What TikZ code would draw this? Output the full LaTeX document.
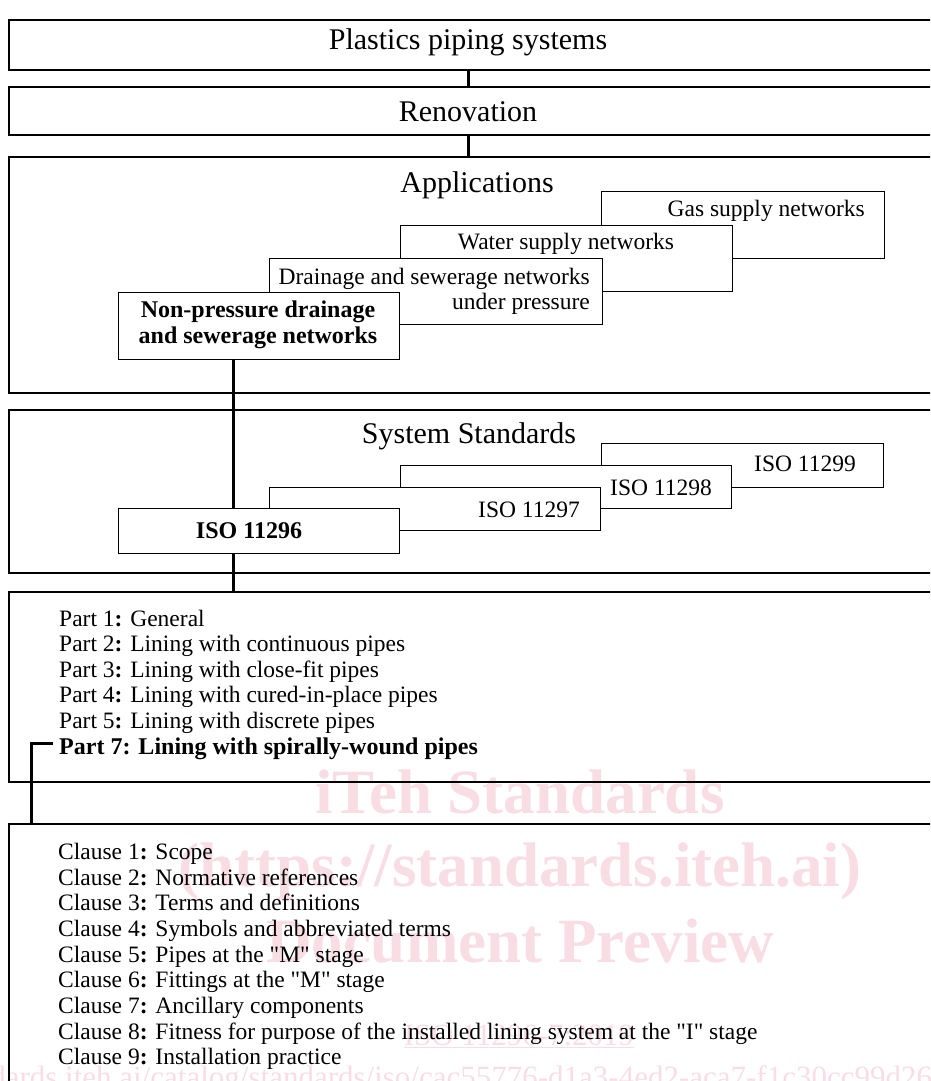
\documentclass[tikz,border=0pt]{standalone}
\usepackage{fontspec}
\setmainfont{Liberation Serif}[Ligatures=TeXOff]
\definecolor{wmpink}{RGB}{248,221,229}

\begin{document}
\begin{tikzpicture}[x=1pt, y=-1pt,
        outerbox/.style={draw, line width=2pt, outer sep=0pt, inner sep=0pt, anchor=north west, minimum width=940pt},
        stackbox/.style={draw, line width=0.9pt, fill=white, outer sep=0pt, inner sep=0pt, anchor=north west},
        heading/.style={inner sep=0pt, anchor=base, font={\fontsize{30}{34}\selectfont}},
        boxtext/.style={inner sep=0pt, font={\fontsize{23.5}{25.6}\selectfont}},
        boldtext/.style={inner sep=0pt, font={\fontsize{24}{25.6}\selectfont\bfseries}},
        link/.style={line width=3pt},
        wmark/.style={inner sep=0pt, anchor=base, text=wmpink, font={\fontsize{63}{70}\selectfont\bfseries}},
        wmsmall/.style={inner sep=0pt, text=wmpink, font={\fontsize{31}{34}\selectfont}}]
        \useasboundingbox (0,0) rectangle (930,1081);
        \clip (0,0) rectangle (930,1081);

        % watermark
        \node[wmark] (wm1) at (520,813) {iTeh Standards};
        \node[wmark] (wm2) at (520,886) {(https://standards.iteh.ai)};
        \node[wmark] (wm3) at (520,962) {Document Preview};
        \node[wmsmall, anchor=base] (wm4) at (519,1045) {\underline{ISO 11296-7:2019}};
        \node[wmsmall, anchor=base west] (wm5) at (-146,1087) {https://standards.iteh.ai/catalog/standards/iso/cac55776-d1a3-4ed2-aca7-f1c30cc99d26/iso-11296-7-2019};

        % top levels
        \node[outerbox, minimum height=50pt] (plastics) at (9,20) {};
        \node[heading] (plasticstitle) at (468,50) {Plastics piping systems};

        \node[outerbox, minimum height=48pt] (renov) at (9,87) {};
        \node[heading] (renovtitle) at (468,121) {Renovation};

        \draw[link] (plastics.south -| plasticstitle) -- (renov.north -| plasticstitle);

        % applications
        \node[outerbox, minimum height=236pt] (appl) at (9,157) {};
        \node[heading] (appltitle) at (477,192) {Applications};

        \draw[link] (renov.south -| renovtitle) -- (appl.north -| renovtitle);

        \node[stackbox, minimum width=283pt, minimum height=67pt] (gas) at (601,191) {};
        \node[boxtext, anchor=base east] (gastext) at (865,216) {Gas supply networks};

        \node[stackbox, minimum width=332pt, minimum height=66pt] (water) at (400,225) {};
        \node[boxtext, anchor=base] (watertext) at (566,249) {Water supply networks};

        \node[stackbox, minimum width=333pt, minimum height=66pt] (drain) at (269,258) {};
        \node[boxtext, anchor=base east] (draintext) at (590,284) {Drainage and sewerage networks};
        \node[boxtext, anchor=base east] (draintext2) at (590,309) {under pressure};

        \node[stackbox, minimum width=281pt, minimum height=67pt] (nonpress) at (118,292) {};
        \node[boldtext, anchor=base] (nonpresstext) at (258,317) {Non-pressure drainage};
        \node[boldtext, anchor=base] (nonpresstext2) at (258,343) {and sewerage networks};

        % system standards
        \node[outerbox, minimum height=163pt] (sysstd) at (9,410) {};
        \node[heading] (sysstdtitle) at (469,443) {System Standards};

        \node[stackbox, minimum width=282pt, minimum height=44pt] (iso99) at (601,443) {};
        \node[boxtext, anchor=base east] (iso99text) at (856,471) {ISO 11299};

        \node[stackbox, minimum width=331pt, minimum height=43pt] (iso98) at (400,465) {};
        \node[boxtext, anchor=base east] (iso98text) at (712,495) {ISO 11298};

        \node[stackbox, minimum width=331pt, minimum height=43pt] (iso97) at (269,487) {};
        \node[boxtext, anchor=base east] (iso97text) at (580,517) {ISO 11297};

        \node[stackbox, minimum width=281pt, minimum height=45pt] (iso96) at (118,508) {};
        \node[boldtext, anchor=base] (iso96text) at (249,538) {ISO 11296};

        \draw[link] (nonpress.south -| 233,0) -- (iso96.north -| 233,0);

        % parts
        \node[outerbox, minimum height=190pt] (parts) at (9,592) {};

        \draw[link] (iso96.south -| 233,0) -- (parts.north -| 233,0);

        \node[boxtext, anchor=base west] (part1) at (59,626) {Part 1\textbf{:} General};
        \node[boxtext, anchor=base west] (part2) at (59,651.6) {Part 2\textbf{:} Lining with continuous pipes};
        \node[boxtext, anchor=base west] (part3) at (59,677.2) {Part 3\textbf{:} Lining with close-fit pipes};
        \node[boxtext, anchor=base west] (part4) at (59,702.8) {Part 4\textbf{:} Lining with cured-in-place pipes};
        \node[boxtext, anchor=base west] (part5) at (59,728.4) {Part 5\textbf{:} Lining with discrete pipes};
        \node[boldtext, anchor=base west] (part7) at (59,754.6) {Part 7: Lining with spirally-wound pipes};

        % clauses
        \node[outerbox, minimum height=280pt] (clauses) at (9,824) {};

        \draw[link] ([shift={(-6pt,5pt)}]part7.west) -| (clauses.north -| 31,0);

        \node[boxtext, anchor=base west] (clause1) at (58,859.3) {Clause 1\textbf{:} Scope};
        \node[boxtext, anchor=base west] (clause2) at (58,885) {Clause 2\textbf{:} Normative references};
        \node[boxtext, anchor=base west] (clause3) at (58,910.7) {Clause 3\textbf{:} Terms and definitions};
        \node[boxtext, anchor=base west] (clause4) at (58,936.4) {Clause 4\textbf{:} Symbols and abbreviated terms};
        \node[boxtext, anchor=base west] (clause5) at (58,962.1) {Clause 5\textbf{:} Pipes at the "M" stage};
        \node[boxtext, anchor=base west] (clause6) at (58,987.8) {Clause 6\textbf{:} Fittings at the "M" stage};
        \node[boxtext, anchor=base west] (clause7) at (58,1013.5) {Clause 7\textbf{:} Ancillary components};
        \node[boxtext, anchor=base west] (clause8) at (58,1039.2) {Clause 8\textbf{:} Fitness for purpose of the installed lining system at the "I" stage};
        \node[boxtext, anchor=base west] (clause9) at (58,1064.9) {Clause 9\textbf{:} Installation practice};
    \end{tikzpicture}
\end{document}
